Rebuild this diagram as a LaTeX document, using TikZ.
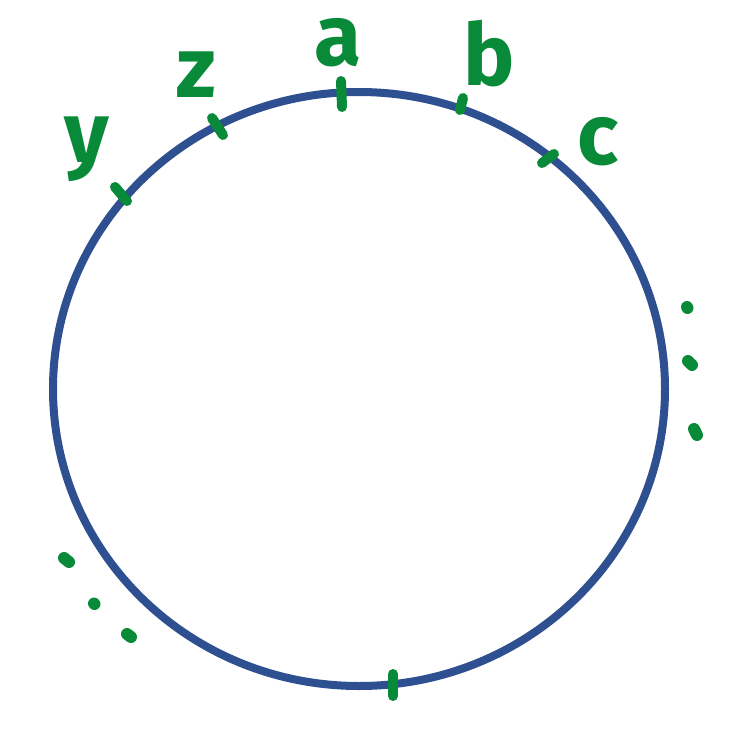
\documentclass[tikz,border=0pt]{standalone}
\usepackage{fontspec}
\setmainfont{Fira Sans}
\usepackage{tikz}

\definecolor{ringblue}{HTML}{2E5090}
\definecolor{pengreen}{HTML}{088A38}

\begin{document}
\begin{tikzpicture}[
			x=1pt, y=-1pt,
			ring/.style={
				draw=ringblue,
				line width=8pt
			},
			tickmark/.style={draw=pengreen, line width=10pt, line cap=round},
			dotmark/.style={draw=pengreen, line width=12pt, line cap=round},
			letter/.style={
				text=pengreen,
				inner sep=0pt,
				font=\fontsize{86}{86}\selectfont\bfseries
			}
			]
			
			\useasboundingbox (0,0) rectangle (739,739);
			
			\draw[ring] (359,389) ellipse [x radius=306, y radius=297];
			
			% marks on the ring
			\draw[tickmark] (341,81) -- (342,107);
			\draw[tickmark] (463,98) -- (460,110);
			\draw[tickmark] (554,154) -- (542,163);
			\draw[tickmark] (212,118) -- (223,135);
			\draw[tickmark] (115,187) -- (127,201);
			\draw[tickmark] (393,674) -- (393,696);
			
			% letters
			\node[letter] (la) at (338,43) {a};
			\node[letter] (lb) at (489,54) {b};
			\node[letter] (lc) at (598,142) {c};
			\node[letter] (lz) at (196,75) {z};
			\node[letter] (ly) at (87,149) {y};
			
			% dots
			\draw[dotmark] (687,307) -- (687.5,308);
			\draw[dotmark] (688,361) -- (692,365);
			\draw[dotmark] (694,429) -- (697,435);
			\draw[dotmark] (64,558) -- (69,562);
			\draw[dotmark] (94,603.5) -- (94.5,604);
			\draw[dotmark] (127,634) -- (131,637);
			
		\end{tikzpicture}
\end{document}
